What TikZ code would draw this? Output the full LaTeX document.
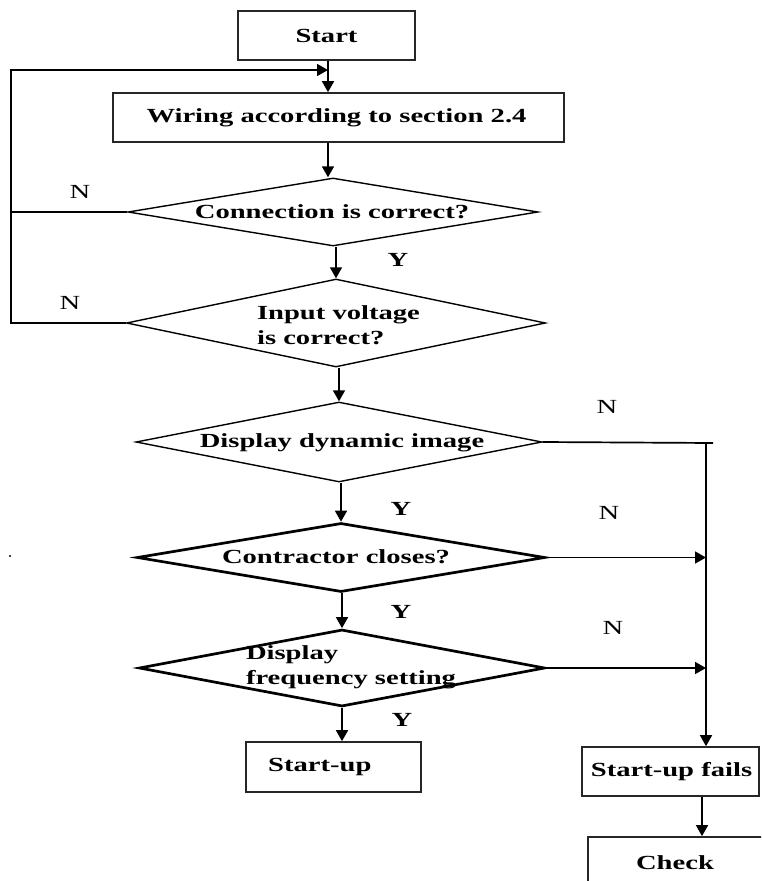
\documentclass[tikz,border=0pt]{standalone}
\usepackage{fontspec}
\setmainfont{Liberation Serif}[FakeStretch=1.43]
\usetikzlibrary{arrows.meta,shapes.geometric}
\begin{document}
\begin{tikzpicture}[x=1pt,y=-1pt,
  box/.style={draw=black!85, line width=1.7pt, inner sep=0pt, fill=white},
  dia/.style={draw, diamond, inner sep=0pt, line width=1.4pt},
  diabold/.style={dia, line width=2.7pt},
  txt/.style={font=\fontsize{20}{25}\selectfont\bfseries, inner sep=0pt, align=left},
  lbl/.style={font=\fontsize{20}{25}\selectfont, inner sep=0pt},
  ylbl/.style={font=\fontsize{20}{25}\selectfont\bfseries, inner sep=0pt},
  arr/.style={line width=1.7pt, -{Triangle[length=11pt,width=12pt]}},
  ln/.style={line width=1.7pt}]
\useasboundingbox (0,0) rectangle (761,881);
\clip (0,0) rectangle (761,881);
% boxes
\node[box, minimum width=177pt, minimum height=49pt] (start) at (326.5,35.5) {};
\node[txt] (tstart) at (start) {Start};
\node[box, minimum width=451pt, minimum height=49pt] (wiring) at (338.5,117.5) {};
\node[txt] (twiring) at (336.5,117.5) {Wiring according to section 2.4};
% diamonds
\node[dia, minimum width=410pt, minimum height=68pt] (d1) at (333,212) {};
\node[txt] (td1) at (332,212) {Connection is correct?};
\node[dia, minimum width=419pt, minimum height=88pt] (d2) at (336,323) {};
\node[txt] (td2) at (338.5,325.5) {Input voltage\\is correct?};
\node[dia, minimum width=406pt, minimum height=80pt] (d3) at (339,442) {};
\node[txt] (td3) at (342,443) {Display dynamic image};
\node[diabold, minimum width=408pt, minimum height=69pt] (d4) at (341,557.5) {};
\node[txt] (td4) at (336,557) {Contractor closes?};
\node[diabold, minimum width=406pt, minimum height=77pt] (d5) at (342,668) {};
\node[txt] (td5) at (351,667) {Display\\frequency setting};
% end boxes
\node[box, minimum width=175pt, minimum height=50pt] (startup) at (333.5,767) {};
\node[txt, anchor=west] (tstartup) at (268,767) {Start-up};
\node[box, minimum width=177pt, minimum height=49pt] (sfail) at (670.5,771.5) {};
\node[txt] (tsfail) at (671.5,771.5) {Start-up fails};
\node[box, minimum width=190pt, minimum height=60pt] (check) at (683,867) {};
\node[txt] (tcheck) at (675,863) {Check};
% helper coordinates
\coordinate (lb) at (11,323);
\coordinate (lt) at (11,70);
\coordinate (jn) at (328,70);
\coordinate (rt) at (706,443);
\coordinate (rte) at (713,443);
\coordinate (fc) at (702,800);
% connectors
\draw[arr] (start.south -| jn) -- (wiring.north -| jn);
\draw[arr] (d2.west) -- (lb) -- (lt) -- (jn);
\draw[ln] (d1.west) -- (d1.west -| lt);
\draw[arr] (wiring.south -| jn) -- (d1.north -| jn);
\draw[arr] (d1.south -| d2.north) -- (d2.north);
\draw[arr] (d2.south -| d3.north) -- (d3.north);
\draw[arr] (d3.south -| d4.north) -- (d4.north);
\draw[arr] (d4.south -| d5.north) -- (d5.north);
\draw[arr] (d5.south) -- (startup.north -| d5.south);
\draw[ln] (d3.east) -- (rte);
\draw[arr] (rt) -- (sfail.north -| rt);
\draw[arr] (d4.east) -- (d4.east -| rt);
\draw[arr] (d5.east) -- (d5.east -| rt);
\draw[arr] (sfail.south -| fc) -- (check.north -| fc);
% labels
\node[lbl] (n1) at (80,192) {N};
\node[lbl] (n2) at (70,303) {N};
\node[lbl] (n3) at (607,407) {N};
\node[lbl] (n4) at (609,513) {N};
\node[lbl] (n5) at (613,628) {N};
\node[ylbl] (y1) at (398,260) {Y};
\node[ylbl] (y2) at (401,509) {Y};
\node[ylbl] (y3) at (401,612) {Y};
\node[ylbl] (y4) at (402,720) {Y};
\fill (10,556) circle (1.2pt);
\end{tikzpicture}
\end{document}
